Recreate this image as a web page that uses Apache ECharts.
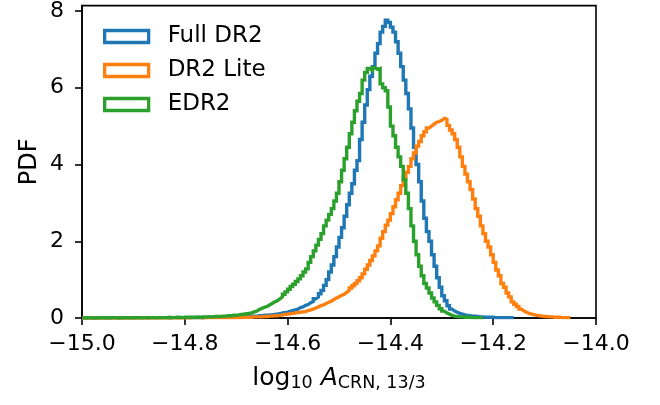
<!DOCTYPE html>
<html>
<head>
<meta charset="utf-8">
<title>PDF of log10 A_CRN</title>
<script src="https://cdn.jsdelivr.net/npm/echarts@6/dist/echarts.min.js"></script>
<style>
  html, body { margin: 0; padding: 0; background: #fff; }
  #chart { width: 660px; height: 405px; }
</style>
</head>
<body>
<div id="chart"></div>
<script>
// histogram bins: first edge and width, values per bin from -15.0 upward
const binStart = -15.0
const binWidth = 0.005

const seriesNames = ['Full DR2', 'DR2 Lite', 'EDR2']

const fullDR2 = [
  0.00,0.00,0.00,0.00,0.00,0.00,0.00,0.01,0.00,0.00,0.00,0.00,0.01,0.00,0.00,0.01,0.00,0.00,0.01,0.00,
  0.00,0.01,0.00,0.01,0.01,0.00,0.01,0.01,0.00,0.01,0.01,0.01,0.01,0.00,0.01,0.01,0.01,0.01,0.01,0.01,
  0.01,0.01,0.01,0.01,0.02,0.01,0.02,0.01,0.02,0.02,0.02,0.02,0.02,0.02,0.02,0.03,0.03,0.03,0.03,0.03,
  0.03,0.03,0.04,0.04,0.04,0.04,0.05,0.05,0.06,0.06,0.07,0.07,0.08,0.08,0.09,0.10,0.11,0.13,0.14,0.15,
  0.17,0.19,0.21,0.23,0.27,0.29,0.33,0.35,0.40,0.43,0.50,0.55,0.63,0.72,0.85,1.00,1.20,1.38,1.60,1.85,
  2.10,2.35,2.65,2.95,3.25,3.50,3.85,4.10,4.65,5.10,5.55,5.95,6.30,6.55,6.90,7.15,7.45,7.60,7.76,7.70,
  7.58,7.45,7.20,6.90,6.55,6.20,5.85,5.45,4.95,4.45,4.00,3.55,3.05,2.60,2.25,2.00,1.65,1.35,1.05,0.80,
  0.58,0.45,0.32,0.23,0.18,0.15,0.12,0.10,0.08,0.07,0.06,0.05,0.05,0.04,0.03,0.03,0.02,0.02,0.02,0.02,
  0.01,0.01,0.01,0.01,0.01,0.01,0.01,0.01
]

const dr2Lite = [
  0.00,0.00,0.00,0.00,0.00,0.00,0.00,0.00,0.00,0.00,0.00,0.00,0.00,0.00,0.00,0.00,0.00,0.00,0.00,0.00,
  0.00,0.00,0.00,0.01,0.00,0.00,0.00,0.00,0.01,0.00,0.00,0.00,0.01,0.00,0.00,0.01,0.00,0.00,0.01,0.00,
  0.01,0.00,0.01,0.01,0.01,0.01,0.00,0.01,0.01,0.01,0.01,0.01,0.01,0.01,0.01,0.01,0.01,0.02,0.01,0.01,
  0.01,0.01,0.02,0.02,0.02,0.02,0.03,0.03,0.03,0.03,0.04,0.04,0.05,0.05,0.06,0.06,0.07,0.08,0.09,0.10,
  0.11,0.12,0.13,0.14,0.15,0.16,0.17,0.19,0.21,0.23,0.26,0.29,0.32,0.34,0.38,0.41,0.44,0.48,0.52,0.55,
  0.59,0.62,0.67,0.72,0.78,0.84,0.90,0.97,1.05,1.15,1.27,1.38,1.50,1.62,1.75,1.88,2.08,2.25,2.42,2.55,
  2.72,2.90,3.08,3.25,3.45,3.65,3.80,3.95,4.15,4.30,4.48,4.60,4.75,4.85,4.95,5.00,5.05,5.10,5.12,5.15,
  5.20,5.18,5.02,4.90,4.80,4.65,4.45,4.20,3.95,3.75,3.55,3.35,3.10,2.85,2.65,2.40,2.20,2.00,1.85,1.65,
  1.45,1.25,1.10,0.90,0.80,0.65,0.55,0.42,0.36,0.30,0.23,0.18,0.15,0.12,0.10,0.09,0.07,0.06,0.05,0.04,
  0.04,0.03,0.03,0.02,0.02,0.02,0.01,0.01,0.01,0.01
]

const edr2 = [
  0.00,0.00,0.01,0.00,0.00,0.01,0.00,0.01,0.00,0.01,0.00,0.01,0.01,0.00,0.01,0.00,0.01,0.01,0.00,0.01,
  0.01,0.01,0.01,0.00,0.01,0.01,0.01,0.01,0.01,0.01,0.01,0.01,0.01,0.02,0.01,0.01,0.02,0.02,0.01,0.02,
  0.02,0.02,0.02,0.02,0.02,0.02,0.02,0.03,0.03,0.03,0.03,0.04,0.04,0.04,0.05,0.05,0.06,0.06,0.07,0.07,
  0.08,0.09,0.10,0.11,0.12,0.13,0.16,0.18,0.22,0.25,0.28,0.30,0.34,0.38,0.42,0.45,0.50,0.55,0.62,0.68,
  0.75,0.82,0.88,0.95,1.02,1.10,1.20,1.28,1.45,1.60,1.75,1.90,2.05,2.20,2.40,2.55,2.70,2.85,3.05,3.25,
  3.55,3.85,4.15,4.45,4.80,5.10,5.40,5.65,5.85,6.20,6.40,6.50,6.45,6.52,6.48,6.50,6.10,6.00,5.92,5.50,
  5.00,4.75,4.45,4.20,3.95,3.60,3.25,2.85,2.40,2.00,1.65,1.35,1.10,0.90,0.78,0.65,0.52,0.42,0.33,0.24,
  0.18,0.13,0.10,0.07,0.05,0.04,0.03,0.03,0.02,0.02,0.02,0.01,0.01,0.01,0.01,0.01
]

const xTicks = [-15.0, -14.8, -14.6, -14.4, -14.2, -14.0]
const yTicks = [0, 2, 4, 6, 8]

const colors = ['#1f77b4', '#ff7f0e', '#2ca02c']
const font = 'DejaVu Sans'

// turn bin values into a step outline (like histtype='step')
function stepPoints(vals){
  let pts = [[binStart, 0]]
  vals.forEach((v, i) => {
    let x0 = binStart + i * binWidth
    pts.push([x0, v], [x0 + binWidth, v])
  })
  pts.push([binStart + vals.length * binWidth, 0])
  return pts
}

const allData = [fullDR2, dr2Lite, edr2]

let option = {
  animation: false,
  color: colors,
  grid: {
    left: 82, right: 64, top: 5, bottom: 87,
    show: true,
    borderColor: '#000',
    borderWidth: 1.6
  },
  legend: {
    orient: 'vertical',
    left: 103,
    top: 25,
    padding: 0,
    itemWidth: 44,
    itemHeight: 12,
    itemGap: 11,
    textStyle: { fontFamily: font, fontSize: 23, color: '#000', lineHeight: 23, padding: [0, 0, 0, 14] },
    data: seriesNames.map((n, i) => ({
      name: n,
      icon: 'rect',
      itemStyle: { color: '#fff', borderColor: colors[i], borderWidth: 3.3 }
    }))
  },
  xAxis: {
    type: 'value',
    min: -15,
    max: -14,
    name: '{n|log}{s|10}{n| }{i|A}{s|CRN, 13/3}',
    nameLocation: 'middle',
    nameGap: 48,
    nameTextStyle: {
      rich: {
        n: { fontFamily: font, fontSize: 25, color: '#000', lineHeight: 26, verticalAlign: 'top' },
        i: { fontFamily: font, fontSize: 25, color: '#000', fontStyle: 'italic', lineHeight: 26, verticalAlign: 'top' },
        s: { fontFamily: font, fontSize: 17.5, color: '#000', lineHeight: 19, verticalAlign: 'bottom', padding: [13, 0, 0, 0] }
      }
    },
    axisLine: { show: true, onZero: false, lineStyle: { color: '#000', width: 1.6 } },
    axisTick: { show: true, length: 7, customValues: xTicks, lineStyle: { color: '#000', width: 1.6 } },
    axisLabel: {
      customValues: xTicks,
      margin: 15,
      fontFamily: font, fontSize: 22, color: '#000',
      formatter: v => v.toFixed(1).replace('-', '\u2212')
    },
    splitLine: { show: false }
  },
  yAxis: {
    type: 'value',
    min: 0,
    max: 8.14,
    name: 'PDF',
    nameLocation: 'middle',
    nameGap: 40,
    nameMoveOverlap: false,
    nameTextStyle: { fontFamily: font, fontSize: 24, color: '#000' },
    axisLine: { show: true, lineStyle: { color: '#000', width: 1.6 } },
    axisTick: { show: true, length: 7, customValues: yTicks, lineStyle: { color: '#000', width: 1.6 } },
    axisLabel: {
      customValues: yTicks,
      margin: 18,
      fontFamily: font, fontSize: 22, color: '#000'
    },
    splitLine: { show: false }
  },
  series: allData.map((vals, i) => ({
    name: seriesNames[i],
    type: 'line',
    data: stepPoints(vals),
    showSymbol: false,
    symbol: 'none',
    clip: true,
    lineStyle: { width: 3.4, color: colors[i], join: 'miter' },
    itemStyle: { color: colors[i] }
  }))
}

let chart = echarts.init(document.getElementById('chart'))
chart.setOption(option)
</script>
</body>
</html>
